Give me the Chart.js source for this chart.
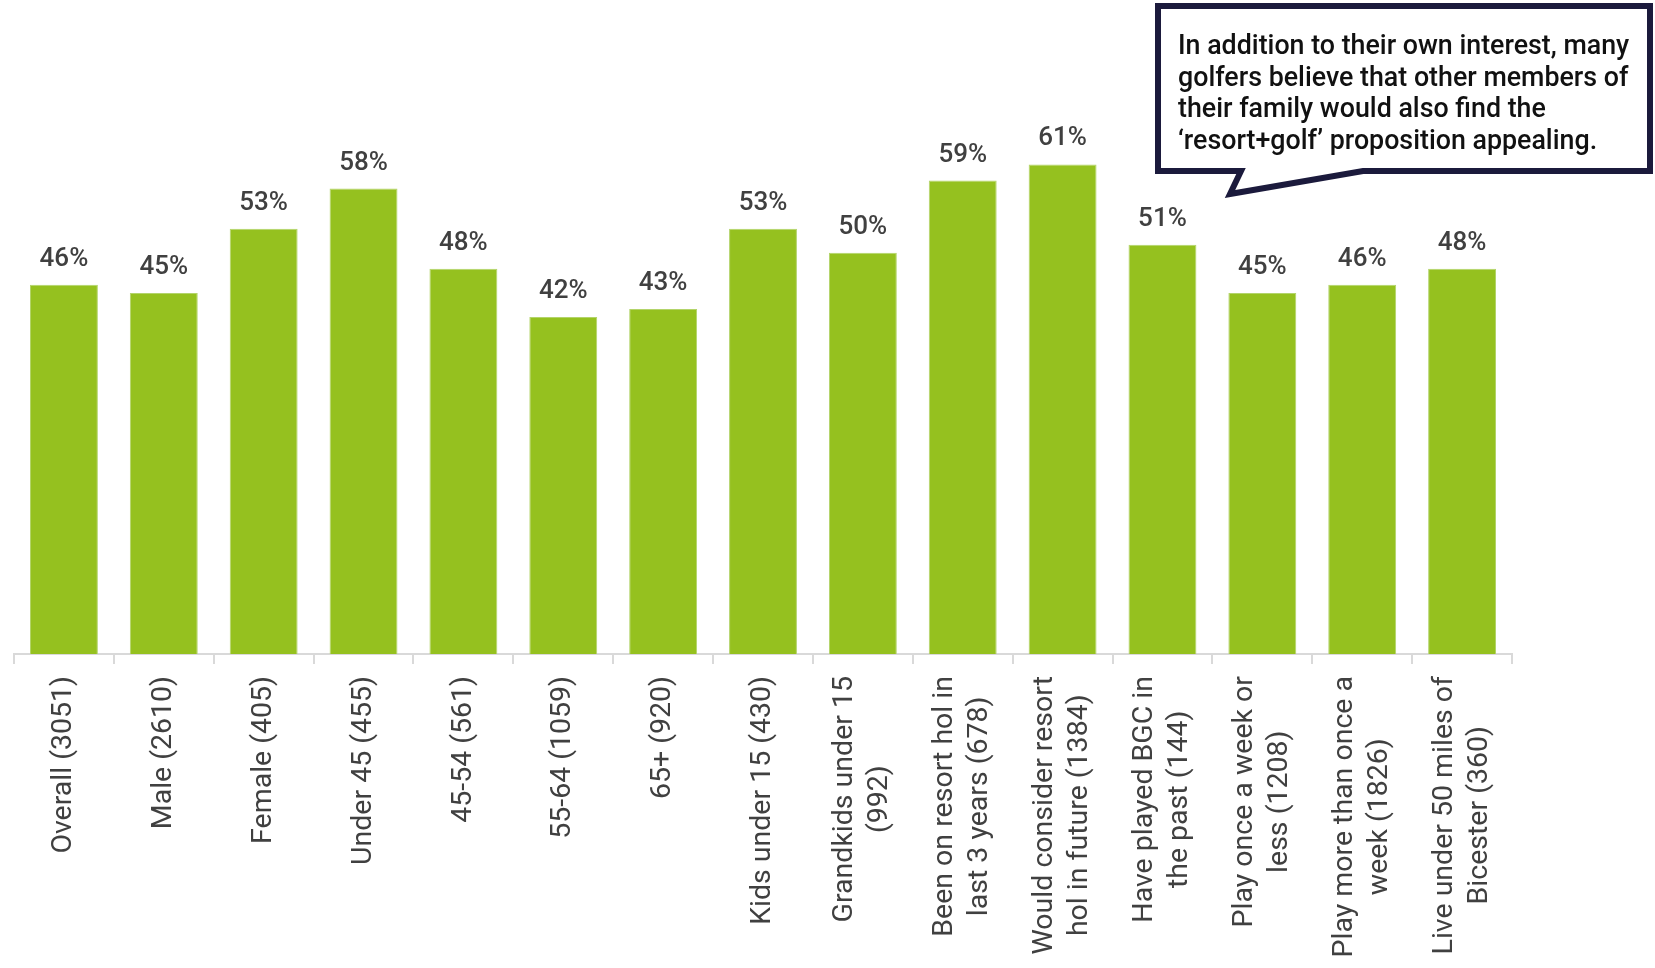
<!DOCTYPE html>
<html lang="en">
<head>
    <meta charset="UTF-8">
    <title>Resort + golf appeal</title>
    <script src="https://cdn.jsdelivr.net/npm/chart.js@4.4.1/dist/chart.umd.min.js"></script>
    <style>
        body { margin: 0; background: #fff; }
        #wrap { width: 1655px; height: 968px; position: relative; }
    </style>
</head>
<body>
    <div id="wrap">
        <canvas id="myChart"></canvas>
    </div>

<script>
    // segments (base size) - multi-line ones are arrays
    var v_labels = [
        "Overall (3051)",
        "Male (2610)",
        "Female (405)",
        "Under 45 (455)",
        "45-54 (561)",
        "55-64 (1059)",
        "65+ (920)",
        "Kids under 15 (430)",
        ["Grandkids under 15", "(992)"],
        ["Been on resort hol in", "last 3 years (678)"],
        ["Would consider resort", "hol in future (1384)"],
        ["Have played BGC in", "the past (144)"],
        ["Play once a week or", "less (1208)"],
        ["Play more than once a", "week (1826)"],
        ["Live under 50 miles of", "Bicester (360)"]
    ];
    // % who find resort+golf appealing
    var v_scores = [46, 45, 53, 58, 48, 42, 43, 53, 50, 59, 61, 51, 45, 46, 48];

    var v_note = [
        "In addition to their own interest, many",
        "golfers believe that other members of",
        "their family would also find the",
        "\u2018resort+golf\u2019 proposition appealing."
    ];

    var v_green = "#95c11f";
    var v_grey = "#404040";

    // % on top of each bar
    const valueLabels = {
        id: "valueLabels",
        afterDatasetsDraw(chart) {
            const ctx = chart.ctx;
            const meta = chart.getDatasetMeta(0);
            ctx.save();
            ctx.font = "500 26px Roboto";
            ctx.fillStyle = v_grey;
            ctx.textAlign = "center";
            ctx.textBaseline = "alphabetic";
            meta.data.forEach(function (bar, i) {
                ctx.fillText(v_scores[i] + "%", bar.x, bar.y - 19);
            });
            ctx.restore();
        }
    };

    // rotated category names, lines centred on each other
    const xLabels = {
        id: "xLabels",
        afterDraw(chart) {
            const ctx = chart.ctx;
            const sx = chart.scales.x;
            const top = chart.chartArea.bottom + 22;
            const lh = 35;
            ctx.save();
            ctx.font = "28.5px Roboto";
            ctx.fillStyle = v_grey;
            ctx.textAlign = "center";
            ctx.textBaseline = "middle";
            v_labels.forEach(function (lab, i) {
                var lines = Array.isArray(lab) ? lab : [lab];
                var w = 0;
                lines.forEach(function (s) { w = Math.max(w, ctx.measureText(s).width); });
                ctx.save();
                ctx.translate(sx.getPixelForTick(i), top);
                ctx.rotate(-Math.PI / 2);
                lines.forEach(function (s, k) {
                    ctx.fillText(s, -w / 2, (k - (lines.length - 1) / 2) * lh);
                });
                ctx.restore();
            });
            ctx.restore();
        }
    };

    // speech-bubble note, top right
    const callout = {
        id: "callout",
        afterDraw(chart) {
            const ctx = chart.ctx;
            ctx.save();
            ctx.beginPath();
            ctx.moveTo(1158, 6);
            ctx.lineTo(1650, 6);
            ctx.lineTo(1650, 171);
            ctx.lineTo(1363, 171);
            ctx.lineTo(1230, 194);
            ctx.lineTo(1241, 171);
            ctx.lineTo(1158, 171);
            ctx.closePath();
            ctx.fillStyle = "#fff";
            ctx.fill();
            ctx.lineWidth = 6;
            ctx.lineJoin = "miter";
            ctx.strokeStyle = "#1b1a3c";
            ctx.stroke();

            ctx.font = "500 26.8px Roboto";
            ctx.fillStyle = "#111";
            ctx.textAlign = "left";
            ctx.textBaseline = "alphabetic";
            v_note.forEach(function (s, k) {
                ctx.fillText(s, 1178, 54 + k * 31.5);
            });
            ctx.restore();
        }
    };

    const ctx = document.getElementById("myChart").getContext("2d");
    const myChart = new Chart(ctx, {
        type: "bar",
        data: {
            labels: v_labels,
            datasets: [{
                data: v_scores,
                backgroundColor: v_green,
                borderColor: "#b3d46a",
                borderWidth: 1,
                barPercentage: 0.68,
                categoryPercentage: 1
            }]
        },
        options: {
            responsive: true,
            maintainAspectRatio: false,
            animation: false,
            layout: {
                padding: { left: 14, right: 143, top: 12, bottom: 304 }
            },
            plugins: {
                legend: { display: false },
                tooltip: { enabled: false }
            },
            scales: {
                x: {
                    ticks: { display: false },
                    grid: {
                        offset: true,
                        drawOnChartArea: false,
                        drawTicks: true,
                        tickLength: 10,
                        color: "#d9d9d9",
                        lineWidth: 2
                    },
                    border: { display: true, color: "#d9d9d9", width: 2 }
                },
                y: {
                    display: false,
                    min: 0,
                    max: 80
                }
            }
        },
        plugins: [valueLabels, xLabels, callout]
    });
</script>
</body>
</html>
